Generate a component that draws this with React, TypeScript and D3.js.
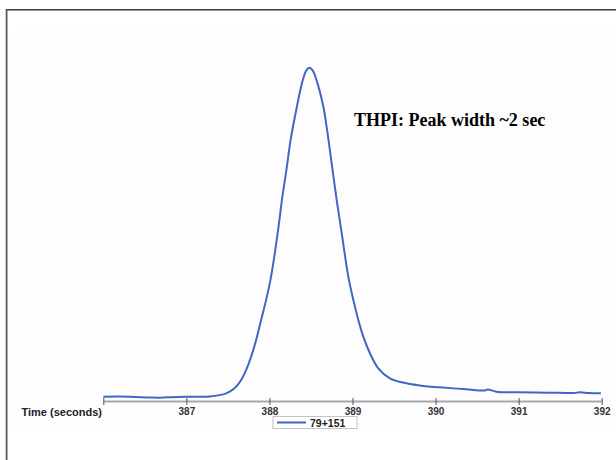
import React, { useEffect, useRef } from "react";
import * as d3 from "d3";

// Time (seconds) and relative signal of the 79+151 trace
const times = [
  386.0, 386.32, 386.56, 386.68, 386.77, 386.98, 387.28, 387.48, 387.58, 387.66,
  387.72, 387.78, 387.84, 387.9, 387.96, 388.01, 388.06, 388.12, 388.15, 388.2,
  388.26, 388.33, 388.39, 388.44, 388.48, 388.52, 388.58, 388.65, 388.7, 388.76,
  388.81, 388.87, 388.95, 389.01, 389.07, 389.13, 389.21, 389.31, 389.45, 389.65,
  389.85, 390.05, 390.37, 390.59, 390.63, 390.73, 391.0, 391.37, 391.67, 391.73,
  391.85, 391.99,
];
const signal = [
  1.3, 1.3, 1.05, 1.0, 1.1, 1.3, 1.35, 2.3, 3.8, 6.3,
  9.3, 13.3, 18.3, 24.3, 30.3, 36.0, 43.5, 54.2, 60.2, 68.5,
  79.0, 88.1, 95.1, 98.9, 99.9, 99.1, 95.1, 88.1, 80.2, 69.2,
  60.2, 50.3, 37.2, 30.3, 24.3, 19.3, 14.3, 9.8, 6.8, 5.3,
  4.5, 4.1, 3.5, 3.15, 3.45, 2.8, 2.6, 2.5, 2.4, 2.6,
  2.4, 2.3,
];
const xTicks = [387, 388, 389, 390, 391, 392];
const seriesName = "79+151";
const note = "THPI: Peak width ~2 sec";

const App = () => {
  const svgRef = useRef(null);
  const width = 616;
  const height = 460;
  const lineColor = "#3f67c3";

  useEffect(() => {
    document.body.style.margin = "0";

    const svg = d3
      .select(svgRef.current)
      .attr("width", width)
      .attr("height", height);

    svg.selectAll("*").remove();

    const data = times.map((t, i) => ({ t, v: signal[i] }));

    const x = d3.scaleLinear().domain([386, 392]).range([103.3, 601.7]);
    const y = d3.scaleLinear().domain([0, 100]).range([401, 67.3]);

    // very faint panel behind the chart
    svg
      .append("rect")
      .attr("x", 15)
      .attr("y", 30)
      .attr("width", width - 15)
      .attr("height", 400)
      .attr("fill", "#fdfdfe");

    // frame lines of the slide
    svg
      .append("line")
      .attr("x1", 6)
      .attr("x2", width)
      .attr("y1", 9.8)
      .attr("y2", 9.8)
      .attr("stroke", "#3a3a3a")
      .attr("stroke-width", 1.6);
    svg
      .append("line")
      .attr("x1", 6.6)
      .attr("x2", 6.6)
      .attr("y1", 9)
      .attr("y2", height)
      .attr("stroke", "#5a5a5a")
      .attr("stroke-width", 1.8);

    // x axis
    const axis = svg
      .append("g")
      .attr("transform", `translate(0,401)`)
      .call(
        d3
          .axisBottom(x)
          .tickValues([386, ...xTicks])
          .tickFormat((d) => (d === 386 ? "" : d3.format("d")(d)))
          .tickSizeInner(4)
          .tickSizeOuter(0)
      );
    axis.select(".domain").attr("stroke", "#a8a8a8").attr("stroke-width", 2);
    axis.selectAll(".tick line").attr("stroke", "#555").attr("y1", -3);
    axis
      .selectAll("text")
      .attr("y", 7)
      .attr("fill", "#333")
      .style("font-family", "Arial, 'Liberation Sans', sans-serif")
      .style("font-size", "10px")
      .style("font-weight", "bold");

    svg
      .append("text")
      .attr("x", 102)
      .attr("y", 416)
      .attr("text-anchor", "end")
      .attr("fill", "#222")
      .style("font-family", "Arial, 'Liberation Sans', sans-serif")
      .style("font-size", "11px")
      .style("font-weight", "bold")
      .text("Time (seconds)");

    // trace
    const line = d3
      .line()
      .x((d) => x(d.t))
      .y((d) => y(d.v))
      .curve(d3.curveCatmullRom.alpha(0.5));

    svg
      .append("path")
      .datum(data)
      .attr("fill", "none")
      .attr("stroke", lineColor)
      .attr("stroke-width", 2)
      .attr("stroke-linejoin", "round")
      .attr("d", line);

    // annotation
    svg
      .append("text")
      .attr("x", 354)
      .attr("y", 126)
      .attr("fill", "#000")
      .style("font-family", "'Liberation Serif', 'Times New Roman', serif")
      .style("font-size", "18px")
      .style("font-weight", "bold")
      .text(note);

    // legend
    const legend = svg.append("g").attr("transform", "translate(273,416.5)");
    legend
      .append("rect")
      .attr("width", 84)
      .attr("height", 12)
      .attr("fill", "#fff")
      .attr("stroke", "#c4c4c4")
      .attr("stroke-width", 1);
    legend
      .append("line")
      .attr("x1", 4)
      .attr("x2", 33)
      .attr("y1", 6)
      .attr("y2", 6)
      .attr("stroke", lineColor)
      .attr("stroke-width", 2);
    legend
      .append("text")
      .attr("x", 37)
      .attr("y", 10)
      .attr("fill", "#222")
      .style("font-family", "Arial, 'Liberation Sans', sans-serif")
      .style("font-size", "10.5px")
      .style("font-weight", "bold")
      .text(seriesName);
  }, []);

  return <svg ref={svgRef}></svg>;
};

export default App;
